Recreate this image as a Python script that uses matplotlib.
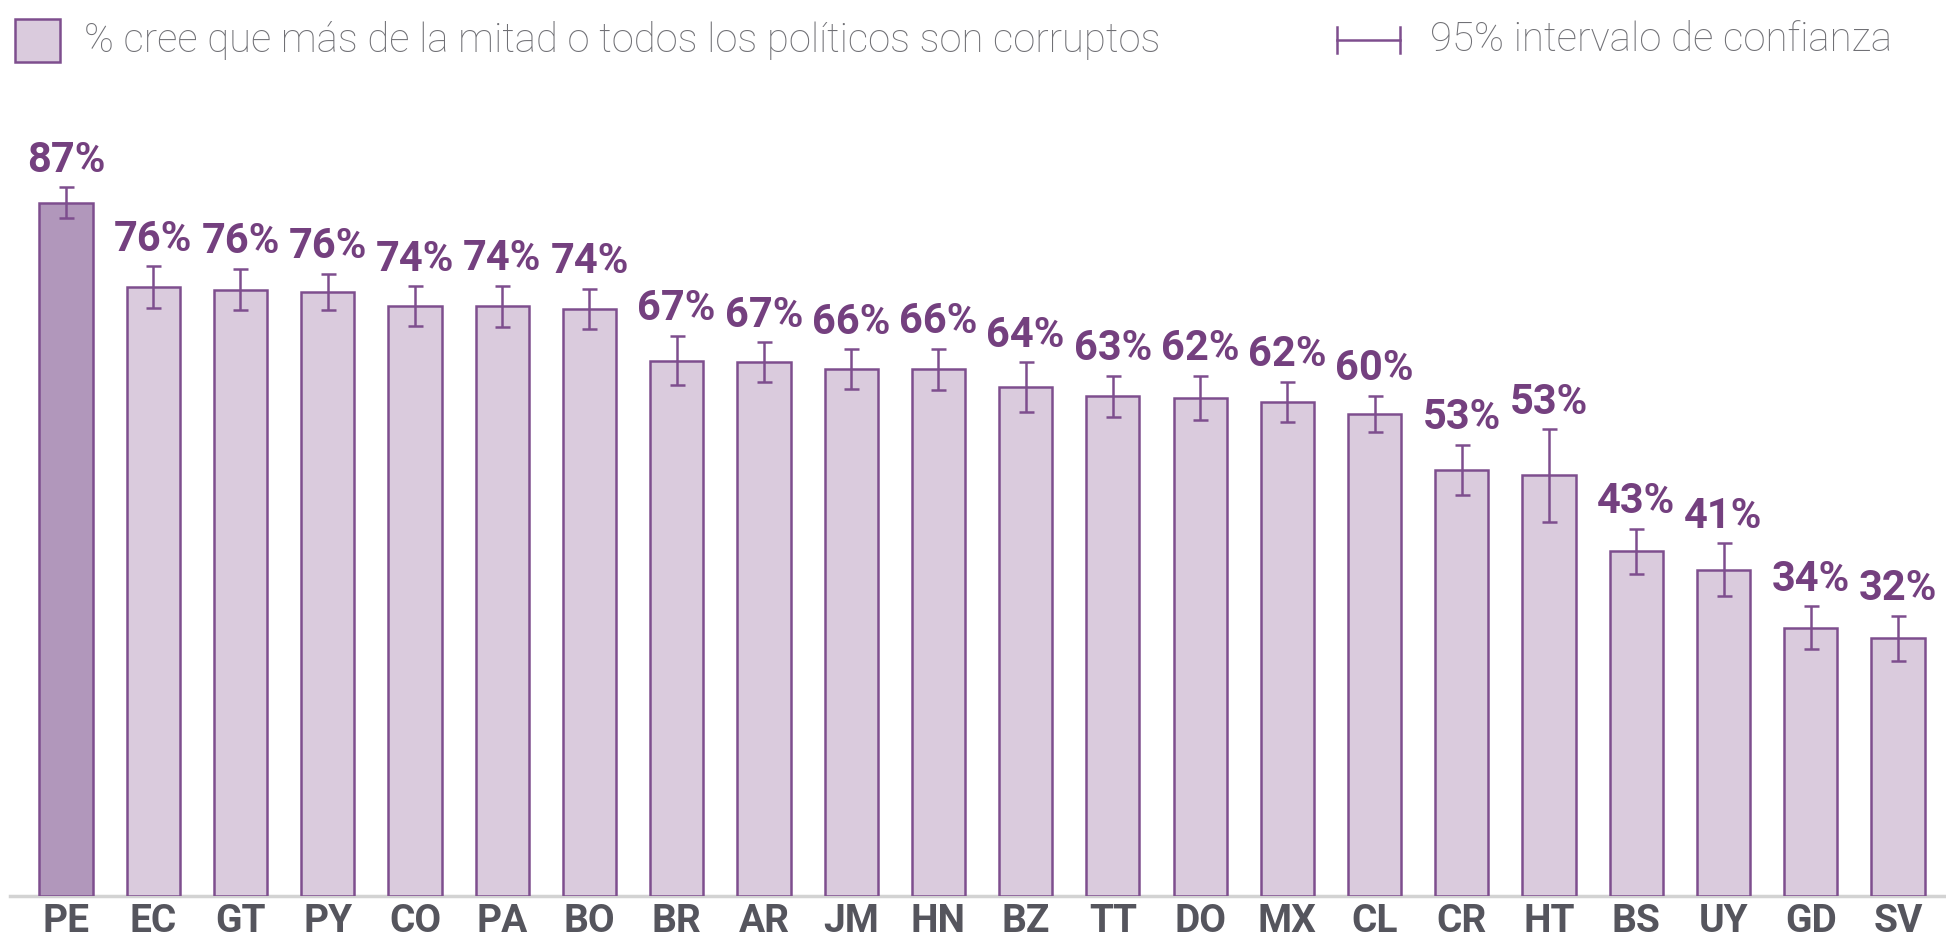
import matplotlib.pyplot as plt
from matplotlib.patches import Rectangle
from matplotlib.lines import Line2D

plt.rcParams['font.family'] = ['Roboto', 'DejaVu Sans']

countries = ['PE', 'EC', 'GT', 'PY', 'CO', 'PA', 'BO', 'BR', 'AR', 'JM', 'HN',
             'BZ', 'TT', 'DO', 'MX', 'CL', 'CR', 'HT', 'BS', 'UY', 'GD', 'SV']
pct_corrupt = [86.9, 76.3, 76.0, 75.7, 73.9, 73.9, 73.6, 67.1, 66.9, 66.0, 66.0,
               63.8, 62.6, 62.4, 61.9, 60.4, 53.4, 52.7, 43.2, 40.9, 33.6, 32.3]
ci_95 = [1.9, 2.6, 2.6, 2.3, 2.5, 2.6, 2.5, 3.1, 2.5, 2.5, 2.6,
         3.1, 2.6, 2.8, 2.5, 2.3, 3.1, 5.8, 2.8, 3.3, 2.7, 2.8]
highlight = 'PE'

light_fill = '#dacbdd'
dark_fill = '#b197bb'
edge = '#7e4e8e'
label_purple = '#74407f'
grey_text = '#707075'
tick_grey = '#55555d'

W, H = 1946, 946
fig = plt.figure(figsize=(W / 100, H / 100), dpi=100)

# axes spans nearly the whole width; baseline sits near the bottom
ax_left = 10 / W
ax_bottom = 1 - 896 / H
ax_top = 1 - 98 / H
ax = fig.add_axes([ax_left, ax_bottom, 1 - ax_left, ax_top - ax_bottom])

x = list(range(len(countries)))
fills = [dark_fill if c == highlight else light_fill for c in countries]
ax.bar(x, pct_corrupt, width=0.61, color=fills, edgecolor=edge, linewidth=1.8,
       zorder=2)
ax.errorbar(x, pct_corrupt, yerr=ci_95, fmt='none', ecolor=edge, elinewidth=1.8,
            capsize=5.4, capthick=1.8, zorder=3)

for xi, v, e in zip(x, pct_corrupt, ci_95):
    ax.text(xi, v + e + 3.4, f'{v:.0f}%', ha='center', va='center',
            fontsize=30, fontweight='bold', color=label_purple)

ax.set_xlim(-0.642, 21.55)
ax.set_ylim(0, 100)
ax.set_xticks(x)
ax.set_xticklabels(countries, fontsize=28, fontweight='bold', color=tick_grey)
ax.tick_params(axis='x', length=0, pad=5)
ax.set_yticks([])
for side in ['left', 'right', 'top']:
    ax.spines[side].set_visible(False)
ax.spines['bottom'].set_color('#d3d3d3')
ax.spines['bottom'].set_linewidth(2.5)
ax.spines['bottom'].set_zorder(1)

# legend drawn in figure pixels
fig.add_artist(Rectangle((15 / W, 1 - 62 / H), 45 / W, 43 / H,
                         transform=fig.transFigure, facecolor=light_fill,
                         edgecolor=edge, linewidth=1.8))
fig.text(84 / W, 1 - 40 / H,
         '% cree que más de la mitad o todos los políticos son corruptos',
         fontsize=28.8, fontweight='light', color=grey_text, va='center', ha='left')

y_leg = 1 - 40 / H
fig.add_artist(Line2D([1337 / W, 1400 / W], [y_leg, y_leg], transform=fig.transFigure,
                      color=edge, linewidth=1.8))
for xp in (1337, 1400):
    fig.add_artist(Line2D([xp / W, xp / W], [y_leg - 13 / H, y_leg + 13 / H],
                          transform=fig.transFigure, color=edge, linewidth=1.8))
fig.text(1430 / W, y_leg, '95% intervalo de confianza',
         fontsize=29, fontweight='light', color=grey_text, va='center', ha='left')

fig.savefig('out.png', dpi=100, facecolor='white')
